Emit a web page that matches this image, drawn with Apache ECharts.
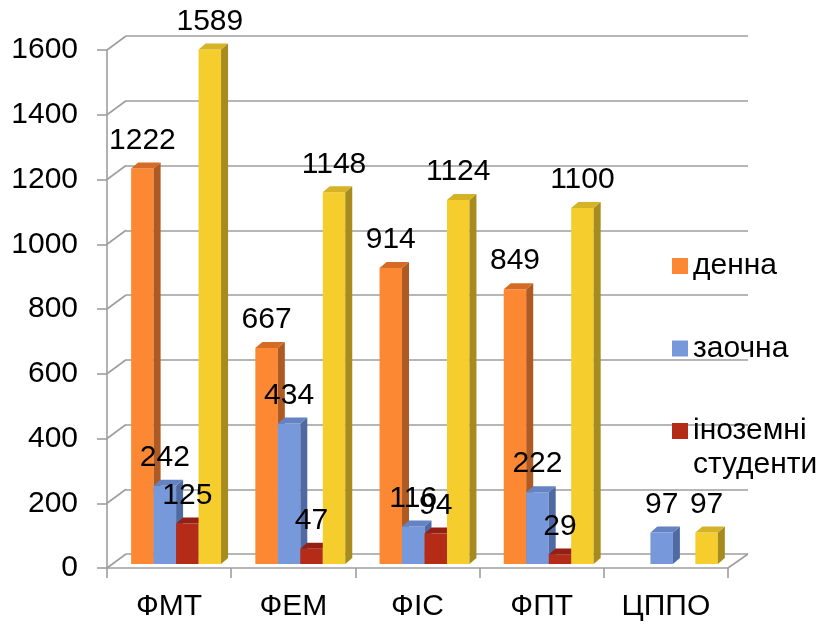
<!DOCTYPE html>
<html><head><meta charset="utf-8">
<script src="https://cdn.jsdelivr.net/npm/echarts@6/dist/echarts.min.js"></script>
<style>html,body{margin:0;padding:0;background:#fff}#c{width:830px;height:624px}</style>
</head><body><div id="c"></div>
<script>
const categories = ['ФМТ', 'ФЕМ', 'ФІС', 'ФПТ', 'ЦППО'];
const denna = [1222, 667, 914, 849, 0];
const zaochna = [242, 434, 116, 222, 97];
const inozemni = [125, 47, 94, 29, 0];
const vsogo = [1589, 1148, 1124, 1100, 97];
const yTicks = [0, 200, 400, 600, 800, 1000, 1200, 1400, 1600];
const seriesNames = ['денна', 'заочна', 'іноземні студенти', 'всього'];

const FONT = '"Liberation Sans", Arial, sans-serif';
const FS = 30;
const palette = [
  { front: '#FD8833', side: '#AE5A22', top: '#D46C26' },
  { front: '#7799DB', side: '#4F6AA2', top: '#6582C2' },
  { front: '#B42B17', side: '#7C1D10', top: '#941F12' },
  { front: '#F5CD2D', side: '#A88B1E', top: '#D6B226' }
];

function barRender(si) {
  const c = palette[si];
  return function (params, api) {
    const ci = api.value(0), v = api.value(1);
    if (!v) return null;
    const band = api.size([1, 0])[0];
    const base = api.coord([ci, 0]);
    const top = api.coord([ci, v]);
    const bw = band * 0.181;
    const x0 = base[0] - 2 * bw + si * bw;
    const dx = 7, dy = 6;
    const yt = top[1], yb = base[1];
    return {
      type: 'group',
      children: [
        { type: 'rect', shape: { x: x0, y: yt, width: bw, height: yb - yt }, style: { fill: c.front } },
        { type: 'polygon', shape: { points: [[x0 + bw, yt], [x0 + bw + dx, yt - dy], [x0 + bw + dx, yb - dy], [x0 + bw, yb]] }, style: { fill: c.side } },
        { type: 'polygon', shape: { points: [[x0, yt], [x0 + dx, yt - dy], [x0 + bw + dx, yt - dy], [x0 + bw, yt]] }, style: { fill: c.top } },
        { type: 'text', x: x0 + bw / 2, y: yt - 28, z2: 100,
          style: { text: String(v), fill: '#000', font: FS + 'px ' + FONT, align: 'center', verticalAlign: 'middle' } }
      ]
    };
  };
}

const dataSets = [denna, zaochna, inozemni, vsogo];
const barSeries = dataSets.map((arr, si) => ({
  type: 'custom',
  name: seriesNames[si],
  xAxisIndex: 2, yAxisIndex: 2,
  renderItem: barRender(si),
  itemStyle: { color: palette[si].front },
  data: arr.map((v, i) => [i, v]),
  z: 3
}));

const chart = echarts.init(document.getElementById('c'), null, { renderer: 'canvas' });
chart.setOption({
  animation: false,
  backgroundColor: '#fff',
  grid: [
    { left: 126, top: 36, width: 622, height: 518 },
    { left: 107, top: 50, width: 621, height: 518 },
    { left: 114, top: 46, width: 621, height: 518 }
  ],
  xAxis: [
    { gridIndex: 0, type: 'category', data: categories, show: false },
    { gridIndex: 1, type: 'category', data: categories,
      axisLine: { show: true, lineStyle: { color: '#9E9E9E', width: 1.6 } },
      axisTick: { show: true, length: 10, interval: 0, lineStyle: { color: '#9E9E9E', width: 1.6 } },
      axisLabel: { color: '#000', fontSize: FS, fontFamily: FONT, margin: 24, interval: 0 } },
    { gridIndex: 2, type: 'category', data: categories, show: false }
  ],
  yAxis: [
    { gridIndex: 0, type: 'value', min: 0, max: 1600, interval: 200,
      axisLine: { show: false }, axisTick: { show: false }, axisLabel: { show: false },
      splitLine: { show: true, lineStyle: { color: '#9E9E9E', width: 1.6 } } },
    { gridIndex: 1, type: 'value', min: 0, max: 1600, interval: 200,
      axisLine: { show: true, lineStyle: { color: '#9E9E9E', width: 1.6 } },
      axisTick: { show: true, length: 10, lineStyle: { color: '#9E9E9E', width: 1.6 } },
      axisLabel: { color: '#000', fontSize: FS, fontFamily: FONT, margin: 29, formatter: v => String(v) },
      splitLine: { show: false } },
    { gridIndex: 2, type: 'value', min: 0, max: 1600, interval: 200, show: false, splitLine: { show: false } }
  ],
  legend: [
    { data: ['денна', 'заочна'], orient: 'vertical', left: 672, top: 249, padding: 0,
      itemWidth: 16, itemHeight: 16, itemGap: 48.5, icon: 'rect',
      textStyle: { color: '#000', fontSize: FS, fontFamily: FONT, lineHeight: 34 } },
    { data: ['іноземні студенти'], orient: 'vertical', left: 672, top: 380, padding: 0,
      itemWidth: 16, itemHeight: 16, icon: 'rect',
      formatter: () => ' \nіноземні\nстуденти',
      textStyle: { color: '#000', fontSize: FS, fontFamily: FONT, lineHeight: 34 } }
  ],
  series: [
    { type: 'custom', xAxisIndex: 0, yAxisIndex: 0, silent: true, z: 1,
      data: yTicks.map(v => [0, v]),
      renderItem: function (params, api) {
        const p = api.coord([0, api.value(1)]);
        const cs = params.coordSys;
        const ls = { stroke: '#9E9E9E', lineWidth: 1.6 };
        const kids = [{ type: 'line', shape: { x1: cs.x, y1: p[1], x2: cs.x - 19, y2: p[1] + 14 }, style: ls }];
        if (api.value(1) === 0) {
          kids.push({ type: 'line', shape: { x1: cs.x + cs.width, y1: p[1], x2: cs.x + cs.width - 20, y2: p[1] + 14 }, style: ls });
        }
        return { type: 'group', children: kids };
      } },
    ...barSeries
  ]
});
</script></body></html>
